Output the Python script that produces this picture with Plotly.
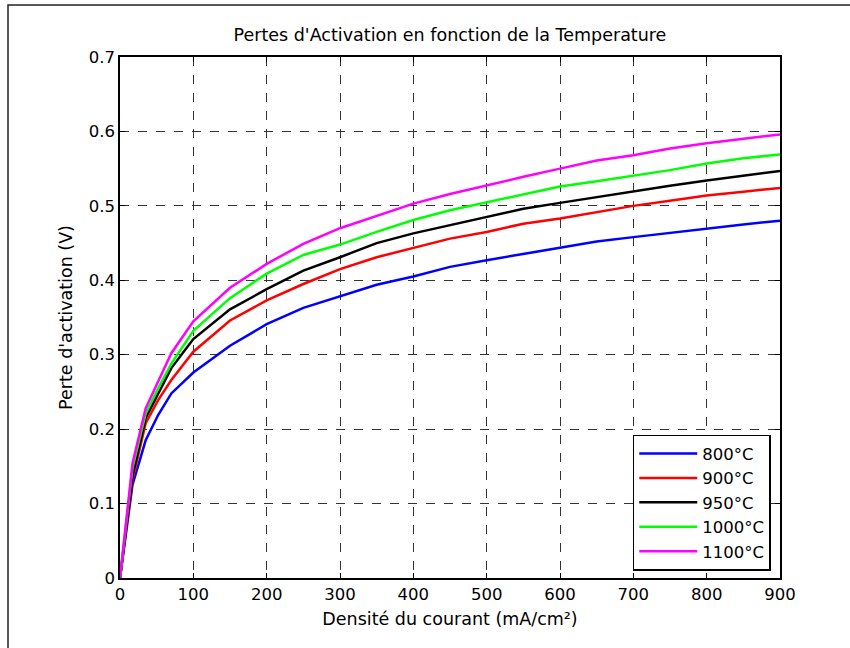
import plotly.graph_objects as go

current = [0, 17, 35, 52, 70, 100, 150, 200, 250, 300, 350, 400, 450, 500,
           550, 600, 650, 700, 750, 800, 850, 900]

loss_800 = [0, 0.125, 0.185, 0.219, 0.248, 0.276, 0.312, 0.341, 0.363, 0.379, 0.394,
            0.405, 0.418, 0.427, 0.435, 0.443, 0.452, 0.458, 0.464, 0.469, 0.475, 0.480]
loss_900 = [0, 0.132, 0.208, 0.239, 0.266, 0.304, 0.346, 0.373, 0.395, 0.415, 0.431,
            0.443, 0.456, 0.465, 0.476, 0.483, 0.492, 0.500, 0.507, 0.514, 0.519, 0.524]
loss_950 = [0, 0.137, 0.215, 0.248, 0.282, 0.321, 0.361, 0.388, 0.413, 0.431, 0.450,
            0.463, 0.474, 0.485, 0.496, 0.504, 0.512, 0.520, 0.527, 0.534, 0.541, 0.547]
loss_1000 = [0, 0.148, 0.221, 0.255, 0.288, 0.332, 0.376, 0.409, 0.434, 0.448, 0.465,
             0.481, 0.494, 0.505, 0.516, 0.526, 0.533, 0.540, 0.548, 0.557, 0.564, 0.569]
loss_1100 = [0, 0.154, 0.228, 0.264, 0.302, 0.345, 0.390, 0.422, 0.449, 0.470, 0.487,
             0.503, 0.516, 0.528, 0.539, 0.550, 0.561, 0.568, 0.577, 0.584, 0.590, 0.596]

series = [
    ("800°C", loss_800, "#0000ff"),
    ("900°C", loss_900, "#ff0000"),
    ("950°C", loss_950, "#000000"),
    ("1000°C", loss_1000, "#00ff00"),
    ("1100°C", loss_1100, "#ff00ff"),
]

fig = go.Figure()
for name, vals, col in series:
    fig.add_trace(go.Scatter(x=current, y=vals, mode="lines", name=name,
                             line=dict(color=col, width=2.5)))

font = "DejaVu Sans, Verdana, sans-serif"
axis_common = dict(
    showline=True, linecolor="black", linewidth=1.5, mirror="ticks",
    ticks="inside", ticklen=5, tickcolor="black", tickwidth=1,
    showgrid=True, gridcolor="#333333", gridwidth=1, griddash="dash",
    zeroline=False, tickfont=dict(family=font, size=16.5, color="black"),
)

fig.update_layout(
    width=850, height=648,
    margin=dict(l=120, r=70, t=57, b=70),
    paper_bgcolor="white", plot_bgcolor="white",
    title=dict(text="Pertes d'Activation en fonction de la Temperature",
               x=0.5294, xanchor="center", y=0.946, yanchor="middle",
               font=dict(family=font, size=17.5, color="black")),
    xaxis=dict(range=[0, 900], tickvals=[0, 100, 200, 300, 400, 500, 600, 700, 800, 900],
               title=dict(text="Densité du courant (mA/cm²)", standoff=10,
                          font=dict(family=font, size=17.5, color="black")),
               **axis_common),
    yaxis=dict(range=[0, 0.7], tickvals=[0, 0.1, 0.2, 0.3, 0.4, 0.5, 0.6, 0.7],
               ticktext=["0", "0.1", "0.2", "0.3", "0.4", "0.5", "0.6", "0.7"],
               title=dict(text="Perte d'activation (V)", standoff=12,
                          font=dict(family=font, size=17.5, color="black")),
               **axis_common),
    legend=dict(x=0.986, xanchor="right", y=0.014, yanchor="bottom",
                bgcolor="white", bordercolor="black", borderwidth=1.5,
                font=dict(family=font, size=16.5, color="black"),
                itemwidth=58, tracegroupgap=0),
    showlegend=True,
)

fig.add_shape(type="rect", xref="paper", yref="paper",
              x0=-0.1697, x1=1.2, y0=-0.2, y1=1.0998,
              line=dict(color="#222222", width=1.5), fillcolor="rgba(0,0,0,0)",
              layer="below")

fig.write_html("out.html")
